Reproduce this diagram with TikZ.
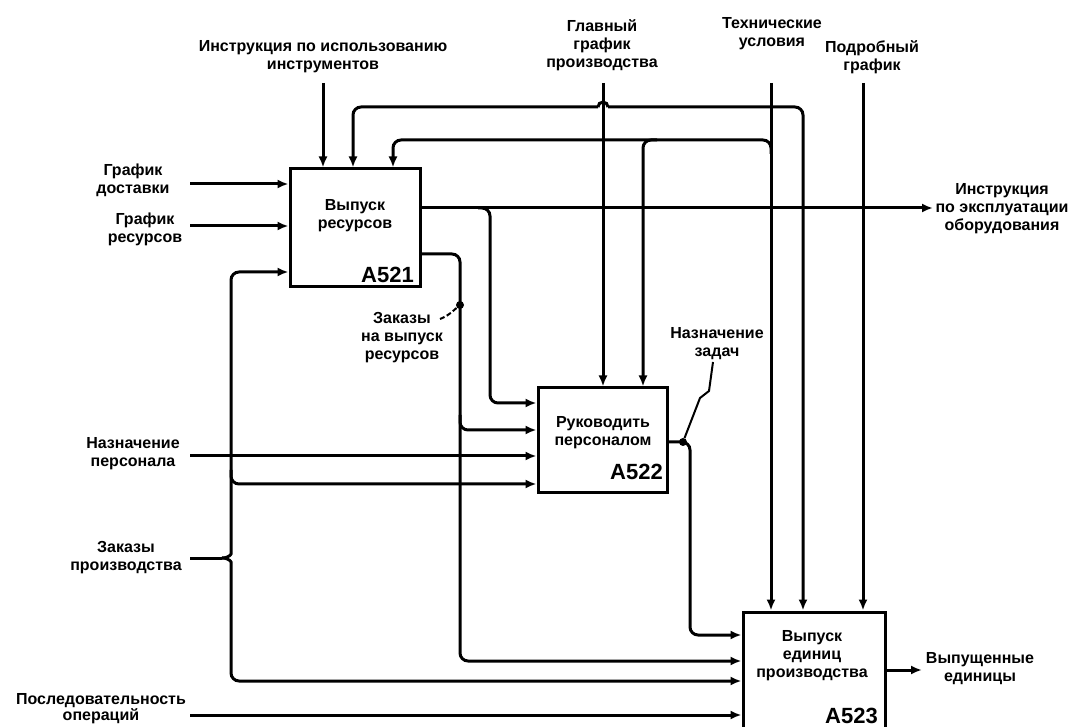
\documentclass[tikz,border=0pt]{standalone}
\usepackage{fontspec}
\setmainfont{Liberation Sans}
\usetikzlibrary{arrows.meta}
\begin{document}
\begin{tikzpicture}[x=1pt,y=-1pt,
  ln/.style={line width=3pt},
  arr/.style={line width=3pt, -{Latex[length=11pt,width=9pt]}, rounded corners=8pt},
  fbox/.style={draw, line width=3pt, inner sep=0pt},
  lbl/.style={font=\fontsize{16}{18}\selectfont\bfseries, align=center, inner sep=0pt},
  num/.style={font=\fontsize{22}{24}\selectfont\bfseries, inner sep=0pt, anchor=east},
  jdot/.style={circle, fill, inner sep=0pt, minimum size=8pt},
  lead/.style={line width=2pt}
]
\useasboundingbox (0,0) rectangle (1072,727);

% boxes
\node[fbox, minimum width=130pt, minimum height=118pt] (b1) at (355,228) {};
\node[fbox, minimum width=129pt, minimum height=104pt] (b2) at (602.5,440) {};
\node[fbox, minimum width=142pt, minimum height=148pt] (b3) at (814,686) {};
\node[lbl] (t1) at (355,216) {Выпуск\\ресурсов};
\node[lbl] (t2) at (603,433) {Руководить\\персоналом};
\node[lbl] (t3) at (812,656) {Выпуск\\единиц\\производства};
\node[num] (n1) at (414,275) {A521};
\node[num] (n2) at (663,472) {A522};
\node[num] (n3) at (878,716) {A523};

% labels
\node[lbl] (Lti) at (323,57) {Инструкция по использованию\\инструментов};
\node[lbl] (Lgg) at (602,45) {Главный\\график\\производства};
\node[lbl] (Ltu) at (772,34) {Технические\\условия};
\node[lbl] (Lpg) at (872,57) {Подробный\\график};
\node[lbl] (Lgd) at (133,180) {График\\доставки};
\node[lbl] (Lgr) at (145,229) {График\\ресурсов};
\node[lbl] (Lnp) at (133,454) {Назначение\\персонала};
\node[lbl] (Lzp) at (126,558) {Заказы\\производства};
\node[lbl, font=\fontsize{16}{16}\selectfont\bfseries] (Lpo) at (101,709) {Последовательность\\операций};
\node[lbl] (Lzr) at (402,338) {Заказы\\на выпуск\\ресурсов};
\node[lbl] (Lnz) at (717,344) {Назначение\\задач};
\node[lbl] (Lio) at (1002,209) {Инструкция\\по эксплуатации\\оборудования};
\node[lbl] (Lvu) at (980,669) {Выпущенные\\единицы};

% free ends
\coordinate (cti) at (323,83);
\coordinate (cgg) at (603,83);
\coordinate (ctu) at (771,83);
\coordinate (cpg) at (863,83);
\coordinate (cgd) at (190,184);
\coordinate (cgr) at (190,226);
\coordinate (cnp) at (190,456);
\coordinate (czp) at (190,558);
\coordinate (cpo) at (190,715);
\coordinate (cio) at (933,208);
\coordinate (cvu) at (922,670);
% routing points
\coordinate (r107a) at (598,107);
\coordinate (r107b) at (608,107);
\coordinate (x353) at (353,107);
\coordinate (x803) at (803,107);
\coordinate (r140) at (771,140);
\coordinate (x393) at (393,140);
\coordinate (x643) at (643,140);
\coordinate (o1) at (420,208);
\coordinate (br490) at (490,208);
\coordinate (o2) at (420,254);
\coordinate (v460) at (460,254);
\coordinate (jn1) at (460,305);
\coordinate (o3) at (667,442);
\coordinate (jn2) at (683,442);
\coordinate (v690) at (690,442);
\coordinate (tip) at (222,558);

% controls from top
\draw[arr] (cti) -- (b1.north -| cti);
\draw[arr] (cgg) -- (b2.north -| cgg);
\draw[arr] (ctu) -- (b3.north -| ctu);
\draw[arr] (cpg) -- (b3.north -| cpg);
\draw[arr] (r107a) -- (x353) -- (b1.north -| x353);
\draw[ln] (r107b) arc[start angle=0, end angle=-180, radius=5];
\draw[arr] (r107b) -- (x803) -- (b3.north -| x803);
\draw[arr] ([yshift=-14pt]r140) -- (r140) -- (x393) -- (b1.north -| x393);
\draw[arr] ([xshift=14pt]x643) -- (x643) -- (b2.north -| x643);

% inputs from left
\draw[arr] (cgd) -- (b1.west |- cgd);
\draw[arr] (cgr) -- (b1.west |- cgr);
\draw[arr] (cnp) -- (b2.west |- cnp);
\draw[arr] (cpo) -- (b3.west |- cpo);
\draw[ln] (czp) -- (tip);
\draw[arr] (tip) .. controls (229,558) and (231,554) .. (231,546) -- (231,272) -- (b1.west |- 0,272);
\draw[arr] (tip) .. controls (229,558) and (231,562) .. (231,570) -- (231,681) -- (b3.west |- 0,681);
\draw[arr] (231,470) -- (231,484) -- (b2.west |- 0,484);

% outputs
\draw[arr] (o1) -- (cio);
\draw[arr] ([xshift=-12pt]br490) -- (br490) -- (490,403) -- (b2.west |- 0,403);
\draw[arr] (o2) -- (v460) -- (460,661) -- (b3.west |- 0,661);
\draw[arr] (460,415) -- (460,430) -- (b2.west |- 0,430);
\draw[arr] (o3) -- (v690) -- (690,635) -- (b3.west |- 0,635);
\draw[arr] (b3.east |- cvu) -- (cvu);

% junctions and leaders
\node[jdot] (d1) at (jn1) {};
\node[jdot] (d2) at (jn2) {};
\draw[lead, dash pattern=on 5pt off 2.5pt] (440,319) .. controls (448,316) and (453,311) .. (d1);
\draw[lead] (713,362) -- (709,391) -- (700,398) -- (d2);
\end{tikzpicture}
\end{document}
